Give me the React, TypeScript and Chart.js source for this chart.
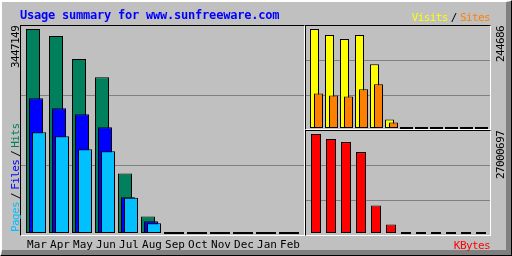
import React, { useEffect, useRef } from 'react';
import { Chart, registerables } from 'chart.js';

Chart.register(...registerables);

// ---------- data ----------
const MONTHS = ['Mar', 'Apr', 'May', 'Jun', 'Jul', 'Aug', 'Sep', 'Oct', 'Nov', 'Dec', 'Jan', 'Feb'];
const HITS = [3447149, 3328500, 2938700, 2633700, 1006700, 278000, 0, 0, 0, 0, 0, 0];
const FILES = [2277800, 2108300, 2006600, 1786300, 604000, 198300, 0, 0, 0, 0, 0, 0];
const PAGES = [1701500, 1633800, 1413400, 1379500, 596000, 164400, 0, 0, 0, 0, 0, 0];
const VISITS = [244686, 229800, 219800, 229800, 157700, 20900, 0, 0, 0, 0, 0, 0];
const SITES = [85500, 80600, 78100, 95500, 107900, 13400, 0, 0, 0, 0, 0, 0];
const KBYTES = [27000697, 25628700, 24805500, 22061600, 7518500, 2304900, 0, 0, 0, 0, 0, 0];
const TITLE = 'Usage summary for www.sunfreeware.com';

// ---------- style ----------
const W = 512;
const H = 256;
const BG = '#C0C0C0';
const DARK = '#808080';
const MONO = '"DejaVu Sans Mono", monospace';
const C_HITS = '#00805C';
const C_FILES = '#0000FF';
const C_PAGES = '#00C0FF';
const C_VISITS = '#FFFF00';
const C_SITES = '#FF8000';
const C_KBYTES = '#FF0000';

type Area = { left: number; right: number; top: number; bottom: number };
type Series = { id: string; values: number[]; color: string; shift: number; order: number };
type Panel = {
  area: Area;
  slot: number;
  firstX: number;
  thickness: number;
  base: number;
  peakTop: number;
  series: Series[];
  showMonths: boolean;
};

const MAIN_PANEL: Panel = {
  area: { left: 21, right: 304, top: 25, bottom: 235 },
  slot: 23,
  firstX: 37,
  thickness: 14,
  base: 233,
  peakTop: 29,
  showMonths: true,
  series: [
    { id: 'xHits', values: HITS, color: C_HITS, shift: -4, order: 3 },
    { id: 'xFiles', values: FILES, color: C_FILES, shift: -1, order: 2 },
    { id: 'xPages', values: PAGES, color: C_PAGES, shift: 2, order: 1 },
  ],
};

const VS_PANEL: Panel = {
  area: { left: 306, right: 490, top: 25, bottom: 130 },
  slot: 15,
  firstX: 314.5,
  thickness: 9,
  base: 128,
  peakTop: 29,
  showMonths: false,
  series: [
    { id: 'xVisits', values: VISITS, color: C_VISITS, shift: 0, order: 2 },
    { id: 'xSites', values: SITES, color: C_SITES, shift: 4, order: 1 },
  ],
};

const KB_PANEL: Panel = {
  area: { left: 306, right: 490, top: 130, bottom: 235 },
  slot: 15,
  firstX: 316,
  thickness: 10,
  base: 233,
  peakTop: 134,
  showMonths: false,
  series: [{ id: 'xKBytes', values: KBYTES, color: C_KBYTES, shift: 0, order: 1 }],
};

function buildConfig(p: Panel): any {
  const peak = Math.max(...p.series[0].values);
  const xr = { min: (p.area.left - p.firstX) / p.slot, max: (p.area.right - p.firstX) / p.slot };
  const unit = peak / (p.base - p.peakTop);
  const yr = { min: -(p.area.bottom - p.base) * unit, max: (p.base - p.area.top) * unit };
  const h = p.area.bottom - p.area.top;
  const R = yr.max - yr.min;
  const monthTicks = (axis: any) => {
    axis.ticks = MONTHS.map((_, i) => ({ value: i }));
  };

  const scales: any = {
    y: {
      type: 'linear',
      axis: 'y',
      position: 'left',
      min: yr.min,
      max: yr.max,
      bounds: 'data',
      grid: { color: DARK, lineWidth: 1, drawTicks: false },
      border: { display: false },
      ticks: { display: false },
      afterBuildTicks: (axis: any) => {
        axis.ticks = [1, 2].map((k) => ({ value: yr.min + (R * (k * h / 3 - 0.1)) / h }));
      },
      afterFit: (axis: any) => {
        axis.width = 0;
      },
    },
  };
  if (p.showMonths) {
    scales.x = {
      type: 'linear',
      axis: 'x',
      position: 'bottom',
      min: xr.min,
      max: xr.max,
      offset: false,
      bounds: 'data',
      grid: { display: false, drawTicks: false, offset: false },
      border: { display: false },
      afterBuildTicks: monthTicks,
      ticks: {
        autoSkip: false,
        maxRotation: 0,
        minRotation: 0,
        padding: 4,
        color: '#000',
        font: { family: MONO, size: 11 },
        callback: (v: any) => MONTHS[v] ?? '',
      },
      afterFit: (axis: any) => {
        axis.height = H - p.area.bottom;
      },
    };
  }
  p.series.forEach((s) => {
    scales[s.id] = {
      type: 'linear',
      axis: 'x',
      position: 'bottom',
      display: false,
      offset: false,
      bounds: 'data',
      min: xr.min - s.shift / p.slot,
      max: xr.max - s.shift / p.slot,
      afterBuildTicks: monthTicks,
      grid: { offset: false },
    };
  });

  return {
    type: 'bar',
    data: {
      datasets: p.series.map((s) => ({
        label: s.id,
        data: s.values.map((y, i) => ({ x: i, y })),
        xAxisID: s.id,
        yAxisID: 'y',
        backgroundColor: s.color,
        borderColor: '#000',
        borderWidth: 1,
        borderSkipped: false,
        barThickness: p.thickness,
        maxBarThickness: p.thickness,
        grouped: false,
        minBarLength: 2,
        inflateAmount: 0,
        order: s.order,
      })),
    },
    options: {
      animation: false,
      responsive: false,
      maintainAspectRatio: false,
      devicePixelRatio: 1,
      events: [],
      layout: {
        padding: {
          left: p.area.left,
          right: W - p.area.right,
          top: p.area.top,
          bottom: p.showMonths ? 0 : H - p.area.bottom,
        },
      },
      plugins: { legend: { display: false }, tooltip: { enabled: false }, title: { display: false } },
      scales,
    },
  };
}

function PanelChart({ panel }: { panel: Panel }) {
  const ref = useRef<HTMLCanvasElement | null>(null);
  useEffect(() => {
    if (!ref.current) return;
    const chart = new Chart(ref.current, buildConfig(panel));
    return () => chart.destroy();
  }, [panel]);
  return (
    <canvas
      ref={ref}
      width={W}
      height={H}
      style={{ position: 'absolute', left: 0, top: 0, width: W, height: H }}
    />
  );
}

const smallFont: React.CSSProperties = {
  fontFamily: MONO,
  fontSize: 11,
  lineHeight: '11px',
  letterSpacing: '-0.6px',
  whiteSpace: 'nowrap',
};

function VText({ x, bottom, children }: { x: number; bottom: number; children: React.ReactNode }) {
  return (
    <div
      style={{
        ...smallFont,
        position: 'absolute',
        left: x,
        top: bottom,
        transformOrigin: '0 0',
        transform: 'rotate(-90deg)',
        color: '#000',
      }}
    >
      {children}
    </div>
  );
}

function Frame({ l, t, r, b }: { l: number; t: number; r: number; b: number }) {
  return (
    <div
      style={{
        position: 'absolute',
        left: l,
        top: t,
        width: r - l + 1,
        height: b - t + 1,
        boxSizing: 'border-box',
        borderTop: '1px solid #000',
        borderLeft: '1px solid #000',
        borderRight: '1px solid #fff',
        borderBottom: '1px solid #fff',
      }}
    />
  );
}

export default function App() {
  const slash = { color: '#000', margin: '0 3px' };
  return (
    <div style={{ position: 'fixed', left: 0, top: 0, width: W, height: H, background: BG, overflow: 'hidden' }}>
      <div
        style={{
          position: 'absolute',
          left: 0,
          top: 0,
          width: W,
          height: H,
          boxSizing: 'border-box',
          borderTop: '1px solid #fff',
          borderLeft: '1px solid #fff',
          borderRight: '1px solid #000',
          borderBottom: '1px solid #000',
        }}
      />
      <div
        style={{
          position: 'absolute',
          left: 1,
          top: 1,
          width: W - 2,
          height: H - 2,
          boxSizing: 'border-box',
          borderTop: '1px solid #fff',
          borderLeft: '1px solid #fff',
          borderRight: `5px solid ${DARK}`,
          borderBottom: `5px solid ${DARK}`,
        }}
      />
      <Frame l={20} t={25} r={304} b={235} />
      <Frame l={305} t={25} r={490} b={129} />
      <Frame l={305} t={130} r={490} b={235} />

      <PanelChart panel={MAIN_PANEL} />
      <PanelChart panel={VS_PANEL} />
      <PanelChart panel={KB_PANEL} />

      <div
        style={{
          position: 'absolute',
          left: 20,
          top: 9,
          fontFamily: MONO,
          fontWeight: 'bold',
          fontSize: 12,
          lineHeight: '12px',
          letterSpacing: '-0.22px',
          color: '#0000FF',
          whiteSpace: 'nowrap',
        }}
      >
        {TITLE}
      </div>

      <div style={{ ...smallFont, position: 'absolute', right: W - 490, top: 12 }}>
        <span style={{ color: C_VISITS }}>Visits</span>
        <span style={slash}>/</span>
        <span style={{ color: C_SITES }}>Sites</span>
      </div>

      <div style={{ ...smallFont, position: 'absolute', right: W - 490, top: 240, color: C_KBYTES }}>KBytes</div>

      <VText x={10} bottom={68}>{String(Math.max(...HITS))}</VText>
      <VText x={10} bottom={232}>
        <span style={{ color: C_PAGES }}>Pages</span>
        <span style={slash}>/</span>
        <span style={{ color: C_FILES }}>Files</span>
        <span style={slash}>/</span>
        <span style={{ color: C_HITS }}>Hits</span>
      </VText>
      <VText x={495} bottom={62}>{String(Math.max(...VISITS))}</VText>
      <VText x={495} bottom={179}>{String(Math.max(...KBYTES))}</VText>
    </div>
  );
}
